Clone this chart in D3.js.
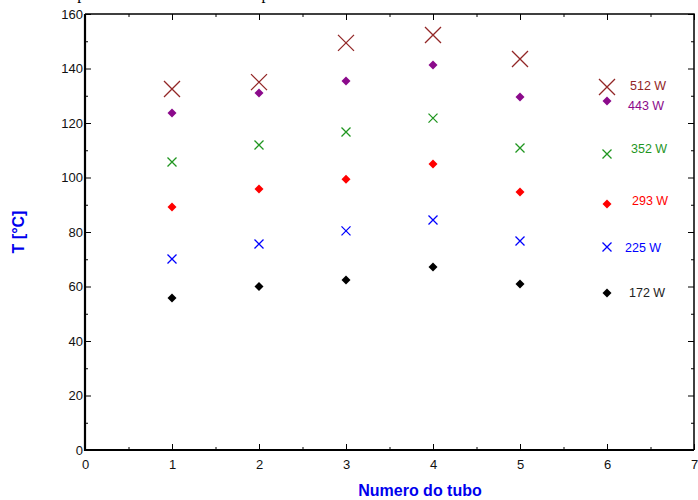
<!DOCTYPE html>
<html>
<head>
<meta charset="utf-8">
<script src="https://cdn.jsdelivr.net/npm/d3@7"></script>
<style>
  html, body { margin: 0; padding: 0; background: #fff; }
  svg { display: block; }
</style>
</head>
<body>
<svg id="chart" width="698" height="500"></svg>
<script>
// Tube numbers and measured temperatures (°C) for each heating power
const tubes = [1, 2, 3, 4, 5, 6];
const powers = ["172 W", "225 W", "293 W", "352 W", "443 W", "512 W"];
const t172 = [55.8, 60.0, 62.4, 67.2, 60.9, 57.6];
const t225 = [70.1, 75.6, 80.4, 84.4, 76.7, 74.5];
const t293 = [89.2, 95.8, 99.4, 105.0, 94.7, 90.3];
const t352 = [105.7, 111.9, 116.7, 121.8, 110.8, 108.6];
const t443 = [123.7, 131.0, 135.4, 141.3, 129.5, 128.1];
const t512 = [132.5, 135.0, 149.4, 152.3, 143.5, 133.2];
const xTicks = [0, 1, 2, 3, 4, 5, 6, 7];
const yTicks = [0, 20, 40, 60, 80, 100, 120, 140, 160];

// Marker style per series
const series = [
  { name: powers[0], values: t172, color: "#000000", shape: "diamond", size: 9, ldx: 22, ldy: 0 },
  { name: powers[1], values: t225, color: "#0000ff", shape: "cross", size: 9, ldx: 18, ldy: 1 },
  { name: powers[2], values: t293, color: "#ff0000", shape: "diamond", size: 9, ldx: 25, ldy: -3 },
  { name: powers[3], values: t352, color: "#1f961f", shape: "cross", size: 9, ldx: 24, ldy: -5 },
  { name: powers[4], values: t443, color: "#8b0a8b", shape: "diamond", size: 9, ldx: 21, ldy: 5 },
  { name: powers[5], values: t512, color: "#922626", shape: "cross", size: 16, ldx: 23, ldy: -1 }
];

const svg = d3.select("#chart");
const mLeft = 85, mRight = 694, mTop = 14, mBottom = 450;

const x = d3.scaleLinear().domain([0, 7]).range([mLeft, mRight]);
const y = d3.scaleLinear().domain([0, 160]).range([mBottom, mTop]);

// Title sits above the visible area
svg.append("text")
  .attr("x", 49).attr("y", -1.5)
  .attr("font-family", "Liberation Serif, Times New Roman, serif")
  .attr("font-size", 16)
  .text("Temperatura média de cada tubo para cada ensaio");

// Axes: ticks drawn inside the frame
const fontFam = "Liberation Sans, Arial, sans-serif";
function styleAxis(g) {
  g.select(".domain").remove();
  g.selectAll("line").attr("stroke", "#000").attr("stroke-width", 1);
  g.selectAll("text").attr("font-family", fontFam).attr("font-size", 13).attr("fill", "#111");
}

const xMinor = d3.range(0.5, 7, 1);
const yMinor = d3.range(10, 160, 20);

// bottom
svg.append("g").attr("transform", `translate(0,${mBottom})`)
  .call(d3.axisBottom(x).tickValues(xTicks).tickFormat(d3.format("d")).tickSizeInner(-6).tickSizeOuter(0).tickPadding(10))
  .call(styleAxis);
svg.append("g").attr("transform", `translate(0,${mBottom})`)
  .call(d3.axisBottom(x).tickValues(xMinor).tickFormat("").tickSizeInner(-3).tickSizeOuter(0))
  .call(styleAxis);
// top
svg.append("g").attr("transform", `translate(0,${mTop})`)
  .call(d3.axisTop(x).tickValues(xTicks).tickFormat("").tickSizeInner(-6).tickSizeOuter(0))
  .call(styleAxis);
svg.append("g").attr("transform", `translate(0,${mTop})`)
  .call(d3.axisTop(x).tickValues(xMinor).tickFormat("").tickSizeInner(-3).tickSizeOuter(0))
  .call(styleAxis);
// left
svg.append("g").attr("transform", `translate(${mLeft},0)`)
  .call(d3.axisLeft(y).tickValues(yTicks).tickFormat(d3.format("d")).tickSizeInner(-6).tickSizeOuter(0))
  .call(styleAxis)
  .call(g => g.selectAll("text").attr("x", -2));
svg.append("g").attr("transform", `translate(${mLeft},0)`)
  .call(d3.axisLeft(y).tickValues(yMinor).tickFormat("").tickSizeInner(-3).tickSizeOuter(0))
  .call(styleAxis);
// right
svg.append("g").attr("transform", `translate(${mRight},0)`)
  .call(d3.axisRight(y).tickValues(yTicks).tickFormat("").tickSizeInner(-6).tickSizeOuter(0))
  .call(styleAxis);
svg.append("g").attr("transform", `translate(${mRight},0)`)
  .call(d3.axisRight(y).tickValues(yMinor).tickFormat("").tickSizeInner(-3).tickSizeOuter(0))
  .call(styleAxis);

// Frame
svg.append("path")
  .attr("d", `M${mLeft},${mTop}H${mRight}V${mBottom}`)
  .attr("fill", "none").attr("stroke", "#000").attr("stroke-width", 1.5);
svg.append("path")
  .attr("d", `M${mLeft},${mTop}V${mBottom}H${mRight}`)
  .attr("fill", "none").attr("stroke", "#000").attr("stroke-width", 2.2);

// Data markers
series.forEach(s => {
  const g = svg.append("g");
  tubes.forEach((t, i) => {
    const cx = x(t), cy = y(s.values[i]);
    const h = s.size / 2;
    if (s.shape === "diamond") {
      g.append("path")
        .attr("d", `M${cx},${cy - h}L${cx + h},${cy}L${cx},${cy + h}L${cx - h},${cy}Z`)
        .attr("fill", s.color);
    } else {
      g.append("path")
        .attr("d", `M${cx - h},${cy - h}L${cx + h},${cy + h}M${cx - h},${cy + h}L${cx + h},${cy - h}`)
        .attr("stroke", s.color).attr("stroke-width", 1.3).attr("fill", "none");
    }
  });
  // Series label next to the last tube
  const last = tubes.length - 1;
  g.append("text")
    .attr("x", x(tubes[last]) + s.ldx)
    .attr("y", y(s.values[last]) + s.ldy)
    .attr("dy", "0.35em")
    .attr("font-family", fontFam).attr("font-size", 12.5)
    .attr("fill", s.color === "#000000" ? "#222" : s.color)
    .text(s.name);
});

// Axis titles
svg.append("text")
  .attr("x", 420).attr("y", 496)
  .attr("text-anchor", "middle")
  .attr("font-family", fontFam).attr("font-size", 16).attr("font-weight", "bold")
  .attr("fill", "#0000ee")
  .text("Numero do tubo");
svg.append("text")
  .attr("transform", `translate(24,${(mTop + mBottom) / 2}) rotate(-90)`)
  .attr("text-anchor", "middle")
  .attr("font-family", fontFam).attr("font-size", 16).attr("font-weight", "bold")
  .attr("fill", "#0000ee")
  .text("T [°C]");
</script>
</body>
</html>
